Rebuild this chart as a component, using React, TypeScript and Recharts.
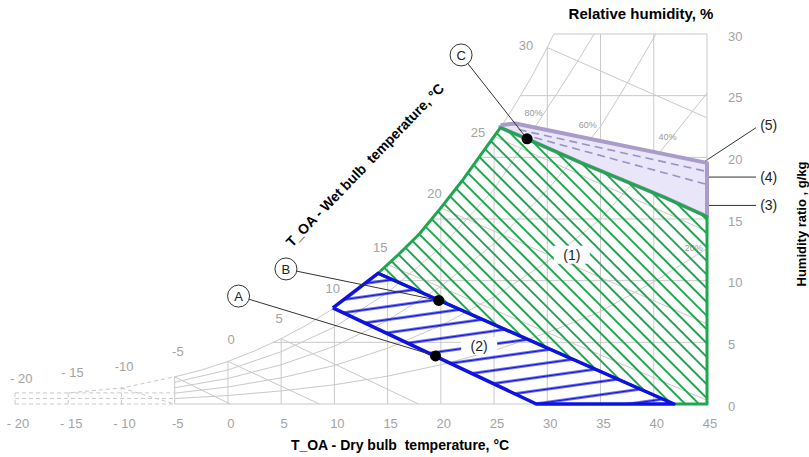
import React from 'react';
import { ComposedChart, XAxis, YAxis, Scatter, ReferenceLine, ReferenceDot } from 'recharts';

type Pt = { x: number; y: number };
type Tag = Pt & { label: string };

const FONT = '"Liberation Sans", Arial, sans-serif';
const GRID = '#c9c9c9';
const TICK = '#a3a3a3';
const GREEN = '#1fa64f';
const BLUE = '#0d12e0';
const LAV_FILL = '#e8e6f8';
const LAV_LINE = '#a99cca';

const xTicks = [-20, -15, -10, -5, 0, 5, 10, 15, 20, 25, 30, 35, 40, 45];
const yTicks = [0, 5, 10, 15, 20, 25, 30];

// saturation curve (dry bulb °C -> humidity ratio g/kg)
const saturation: Pt[] = [
  { x: -5, y: 2.2 }, { x: -2.5, y: 2.75 }, { x: 0, y: 3.45 }, { x: 2.5, y: 4.3 },
  { x: 5, y: 5.3 }, { x: 7.5, y: 6.45 }, { x: 10, y: 7.8 }, { x: 12, y: 9.0 },
  { x: 14.1, y: 10.6 }, { x: 16, y: 12.1 }, { x: 18, y: 13.8 }, { x: 20, y: 15.9 },
  { x: 22, y: 18.1 }, { x: 24, y: 20.5 }, { x: 25.6, y: 22.4 }, { x: 27, y: 24.3 },
  { x: 28.5, y: 26.5 }, { x: 30, y: 28.9 }, { x: 30.6, y: 30 },
];
const saturationCold: Pt[] = [{ x: -20, y: 0.9 }, { x: -15, y: 0.9 }, { x: -10, y: 1.3 }, { x: -5, y: 2.2 }];

// dry bulb lines [t, top w]
const dryBulbLines = [[-5, 2.2], [0, 3.45], [5, 5.3], [10, 7.8], [15, 11.3], [20, 15.9], [25, 21.7], [30, 28.9], [35, 30], [40, 30], [45, 30]];
const dryBulbCold = [[-20, 0.9], [-15, 0.9], [-10, 1.3]];
// humidity ratio lines [w, start t]
const ratioLines = [[0, -5], [5, 4.2], [10, 13.3], [15, 19.1], [20, 23.6], [25, 27.5], [30, 30.6]];

const wetBulbLines: Pt[][] = [
  [{ x: -5, y: 2.2 }, { x: 0.2, y: 0 }],
  [{ x: 0, y: 3.45 }, { x: 8.6, y: 0 }],
  [{ x: 5, y: 5.3 }, { x: 17.9, y: 0 }],
  [{ x: 10, y: 7.8 }, { x: 29, y: 0 }],
  [{ x: 15, y: 11.3 }, { x: 45, y: 0.3 }],
  [{ x: 20, y: 15.9 }, { x: 45, y: 6.5 }],
  [{ x: 25, y: 21.7 }, { x: 45, y: 14.0 }],
  [{ x: 30, y: 28.9 }, { x: 45, y: 23.2 }],
];
const coldLines: Pt[][] = [
  [{ x: -20, y: 0 }, { x: -5, y: 0 }],
  [{ x: -20, y: 0.45 }, { x: -5, y: 0.45 }],
  [{ x: -15, y: 0.9 }, { x: -5, y: 0.9 }],
  [{ x: -10, y: 1.3 }, { x: -5, y: 0 }],
];

const rh20: Pt[] = [
  { x: -5, y: 0.44 }, { x: 0, y: 0.69 }, { x: 5, y: 1.06 }, { x: 10, y: 1.56 }, { x: 15, y: 2.26 }, { x: 20, y: 3.18 },
  { x: 25, y: 4.34 }, { x: 30, y: 5.78 }, { x: 35, y: 7.5 }, { x: 40, y: 9.9 }, { x: 45, y: 12.6 },
];
const rh40: Pt[] = [
  { x: -5, y: 0.88 }, { x: 0, y: 1.38 }, { x: 5, y: 2.12 }, { x: 10, y: 3.12 }, { x: 15, y: 4.52 }, { x: 20, y: 6.36 },
  { x: 25, y: 8.68 }, { x: 30, y: 11.56 }, { x: 35, y: 15.0 }, { x: 40, y: 19.8 }, { x: 45, y: 25.2 },
];
const rh60: Pt[] = [
  { x: -5, y: 1.32 }, { x: 0, y: 2.07 }, { x: 5, y: 3.18 }, { x: 10, y: 4.68 }, { x: 15, y: 6.78 }, { x: 20, y: 9.54 },
  { x: 25, y: 13.0 }, { x: 30, y: 17.34 }, { x: 35, y: 22.5 }, { x: 37.5, y: 26.0 }, { x: 40.2, y: 30 },
];
const rh80: Pt[] = [
  { x: -5, y: 1.76 }, { x: 0, y: 2.76 }, { x: 5, y: 4.24 }, { x: 10, y: 6.24 }, { x: 15, y: 9.04 }, { x: 20, y: 12.7 },
  { x: 25, y: 17.4 }, { x: 28.5, y: 22.0 }, { x: 31, y: 25.3 }, { x: 33, y: 28.0 }, { x: 34.4, y: 30 },
];

// zones
const zone1: Pt[] = [
  { x: 14.1, y: 10.6 }, { x: 16, y: 12.1 }, { x: 18, y: 13.8 }, { x: 20, y: 15.9 }, { x: 22, y: 18.1 },
  { x: 24, y: 20.5 }, { x: 25.6, y: 22.4 }, { x: 28.1, y: 21.5 }, { x: 33.2, y: 19.55 }, { x: 37, y: 18.2 },
  { x: 40.9, y: 16.8 }, { x: 45, y: 15.2 }, { x: 45, y: 0 }, { x: 41.9, y: 0 }, { x: 14.1, y: 10.6 },
];
const zone2: Pt[] = [{ x: 9.86, y: 7.8 }, { x: 14.1, y: 10.6 }, { x: 41.9, y: 0 }, { x: 28.97, y: 0 }, { x: 9.86, y: 7.8 }];
const zone3: Pt[] = [
  { x: 25.6, y: 22.6 }, { x: 27, y: 22.75 }, { x: 45, y: 19.55 }, { x: 45, y: 15.2 }, { x: 40.9, y: 16.8 },
  { x: 37, y: 18.2 }, { x: 33.2, y: 19.55 }, { x: 28.1, y: 21.5 }, { x: 25.6, y: 22.4 }, { x: 25.6, y: 22.6 },
];
const line4a: Pt[] = [{ x: 27.3, y: 22.25 }, { x: 45, y: 18.85 }];
const line4b: Pt[] = [{ x: 28.8, y: 21.6 }, { x: 45, y: 17.8 }];

const wetBulbTags: Tag[] = [
  { x: -19.4, y: 2.1, label: '- 20' }, { x: -14.6, y: 2.55, label: '- 15' }, { x: -9.75, y: 3.05, label: '-10' },
  { x: -4.7, y: 4.3, label: '-5' }, { x: 0.3, y: 5.2, label: '0' }, { x: 4.8, y: 6.95, label: '5' },
  { x: 9.85, y: 9.4, label: '10' }, { x: 14.3, y: 12.7, label: '15' }, { x: 19.4, y: 17.1, label: '20' },
  { x: 23.5, y: 22.0, label: '25' }, { x: 28.0, y: 29.1, label: '30' },
];
const rhTags: Tag[] = [
  { x: 28.7, y: 23.6, label: '80%' }, { x: 33.8, y: 22.6, label: '60%' },
  { x: 41.3, y: 21.7, label: '40%' }, { x: 43.75, y: 12.65, label: '20%' },
];
const zoneTags: Tag[] = [{ x: 32.3, y: 12.1, label: '(1)' }, { x: 23.6, y: 4.7, label: '(2)' }];
const pointTags: Tag[] = [{ x: 1.0, y: 8.75, label: 'A' }, { x: 5.45, y: 10.95, label: 'B' }, { x: 21.9, y: 28.3, label: 'C' }];
const pointDots: Pt[] = [{ x: 19.5, y: 3.9 }, { x: 19.8, y: 8.4 }, { x: 28.1, y: 21.5 }];
const sideTags: Tag[] = [{ x: 50.8, y: 22.6, label: '(5)' }, { x: 50.8, y: 18.4, label: '(4)' }, { x: 50.8, y: 16.1, label: '(3)' }];
const sideLeaders: Pt[][] = [
  [{ x: 44.4, y: 19.45 }, { x: 49.6, y: 22.4 }],
  [{ x: 44.4, y: 18.4 }, { x: 49.6, y: 18.4 }],
  [{ x: 44.4, y: 16.1 }, { x: 49.6, y: 16.1 }],
];

const hidden = () => <g />;

const path = (key: string, data: Pt[], line: Record<string, unknown>) => (
  <Scatter key={key} data={data} shape={hidden} line={line} isAnimationActive={false} legendType="none" />
);

const tags = (key: string, data: Tag[], shape: (p: any) => React.ReactElement) => (
  <Scatter key={key} data={data} shape={shape} isAnimationActive={false} legendType="none" />
);

const plainText = (size: number, color: string) => (p: any) => (
  <text x={p.cx} y={p.cy} dy="0.35em" textAnchor="middle" fontSize={size} fill={color} fontFamily={FONT} xmlSpace="preserve">
    {p.payload.label}
  </text>
);

const boxText = (p: any) => (
  <g>
    <rect x={p.cx - 18} y={p.cy - 9} width={36} height={18} fill="#fff" />
    <text x={p.cx} y={p.cy} dy="0.35em" textAnchor="middle" fontSize={14} fill="#222" fontFamily={FONT}>
      {p.payload.label}
    </text>
  </g>
);

const circleText = (p: any) => (
  <g>
    <circle cx={p.cx} cy={p.cy} r={11} fill="#fff" stroke="#333" strokeWidth={1} />
    <text x={p.cx} y={p.cy} dy="0.35em" textAnchor="middle" fontSize={13} fill="#222" fontFamily={FONT}>
      {p.payload.label}
    </text>
  </g>
);

const blackDot = (p: any) => <circle cx={p.cx} cy={p.cy} r={5.5} fill="#000" />;

const XTick = (props: any) => {
  const v = props.payload.value as number;
  const s = v <= -10 ? `- ${-v}` : String(v);
  return (
    <text x={props.x + 3} y={props.y + 24} textAnchor="middle" fontSize={13} fill={TICK} fontFamily={FONT} xmlSpace="preserve">
      {s}
    </text>
  );
};

const YTick = (props: any) => (
  <text x={props.x + 21} y={props.y + 6.5} textAnchor="start" fontSize={13} fill={TICK} fontFamily={FONT}>
    {props.payload.value}
  </text>
);

export default function App() {
  const grid = { stroke: GRID, strokeWidth: 1 };
  const dashed = { stroke: GRID, strokeWidth: 1, strokeDasharray: '4 3' };
  return (
    <div style={{ position: 'absolute', left: 0, top: 0, width: 809, height: 457, background: '#fff' }}>
      <svg width={0} height={0} style={{ position: 'absolute' }}>
        <defs>
          <pattern id="hatchGreen" patternUnits="userSpaceOnUse" width={9.7} height={10} patternTransform="rotate(-45)">
            <line x1={4.85} y1={0} x2={4.85} y2={10} stroke={GREEN} strokeWidth={2} />
          </pattern>
          <pattern id="hatchBlue" patternUnits="userSpaceOnUse" width={10} height={13} patternTransform="rotate(-8)">
            <line x1={0} y1={6.5} x2={10} y2={6.5} stroke={BLUE} strokeWidth={2.2} />
          </pattern>
        </defs>
      </svg>
      <ComposedChart width={809} height={457} margin={{ top: 34, right: 0, bottom: 0, left: 15 }}>
        <XAxis
          type="number"
          dataKey="x"
          domain={[-20, 45]}
          ticks={xTicks}
          interval={0}
          axisLine={false}
          tickLine={false}
          tickSize={0}
          tickMargin={0}
          height={53}
          tick={XTick}
        />
        <YAxis
          type="number"
          dataKey="y"
          orientation="right"
          domain={[0, 30]}
          ticks={yTicks}
          interval={0}
          axisLine={false}
          tickLine={false}
          tickSize={0}
          tickMargin={0}
          width={102}
          tick={YTick}
        />

        {path('satCold', saturationCold, dashed)}
        {dryBulbCold.map(([t, w]) => path(`dbc${t}`, [{ x: t, y: 0 }, { x: t, y: w }], dashed))}
        {coldLines.map((d, i) => path(`cold${i}`, d, dashed))}

        {dryBulbLines.map(([t, w]) => path(`db${t}`, [{ x: t, y: 0 }, { x: t, y: w }], grid))}
        {ratioLines.map(([w, t]) => path(`w${w}`, [{ x: t, y: w }, { x: 45, y: w }], grid))}
        {wetBulbLines.map((d, i) => path(`wb${i}`, d, grid))}
        {path('rh20', rh20, grid)}
        {path('rh40', rh40, grid)}
        {path('rh60', rh60, grid)}
        {path('rh80', rh80, grid)}
        {path('sat', saturation, grid)}

        {tags('wbTags', wetBulbTags, plainText(13, TICK))}
        {tags('rhTags', rhTags, plainText(9, '#999'))}

        {path('zone3', zone3, { stroke: LAV_LINE, strokeWidth: 4, fill: LAV_FILL, strokeLinejoin: 'round' })}
        {path('zone1', zone1, { stroke: GREEN, strokeWidth: 3, fill: 'url(#hatchGreen)', strokeLinejoin: 'round' })}
        {path('zone2', zone2, { stroke: BLUE, strokeWidth: 3.5, fill: 'url(#hatchBlue)', strokeLinejoin: 'round' })}
        {path('line4a', line4a, { stroke: '#9d90c4', strokeWidth: 1.6, strokeDasharray: '8 5' })}
        {path('line4b', line4b, { stroke: '#9d90c4', strokeWidth: 1.6, strokeDasharray: '8 5' })}

        {tags('zoneTags', zoneTags, boxText)}
        {pointTags.map((t, i) =>
          path(`lead${t.label}`, [{ x: t.x, y: t.y }, pointDots[i]], { stroke: '#333', strokeWidth: 1 })
        )}
        {tags('circles', pointTags, circleText)}
        <Scatter data={pointDots} shape={blackDot} isAnimationActive={false} legendType="none" />

        {sideLeaders.map((s, i) => (
          <ReferenceLine key={`sl${i}`} segment={s} stroke="#333" strokeWidth={1} ifOverflow="visible" />
        ))}
        {sideTags.map((t) => (
          <ReferenceDot
            key={t.label}
            x={t.x}
            y={t.y}
            r={0}
            ifOverflow="visible"
            shape={(p: any) => (
              <text x={p.cx} y={p.cy} dy="0.35em" textAnchor="middle" fontSize={14} fill="#222" fontFamily={FONT}>
                {t.label}
              </text>
            )}
          />
        ))}
      </ComposedChart>
      <svg width={809} height={457} style={{ position: 'absolute', left: 0, top: 0, pointerEvents: 'none' }}>
        <g fontFamily={FONT} fontWeight="bold" fill="#000">
          <text x={641} y={19} textAnchor="middle" fontSize={15} xmlSpace="preserve">Relative humidity, %</text>
          <text x={400} y={450} textAnchor="middle" fontSize={14} xmlSpace="preserve">{'T_OA - Dry bulb  temperature, °C'}</text>
          <text transform="translate(365,165) rotate(-46)" textAnchor="middle" dy="0.35em" fontSize={14} xmlSpace="preserve">
            {'T_OA - Wet bulb  temperature, °C'}
          </text>
          <text transform="translate(801,224) rotate(-90)" textAnchor="middle" dy="0.35em" fontSize={13} xmlSpace="preserve">
            {'Humidity ratio , g/kg'}
          </text>
        </g>
      </svg>
    </div>
  );
}
